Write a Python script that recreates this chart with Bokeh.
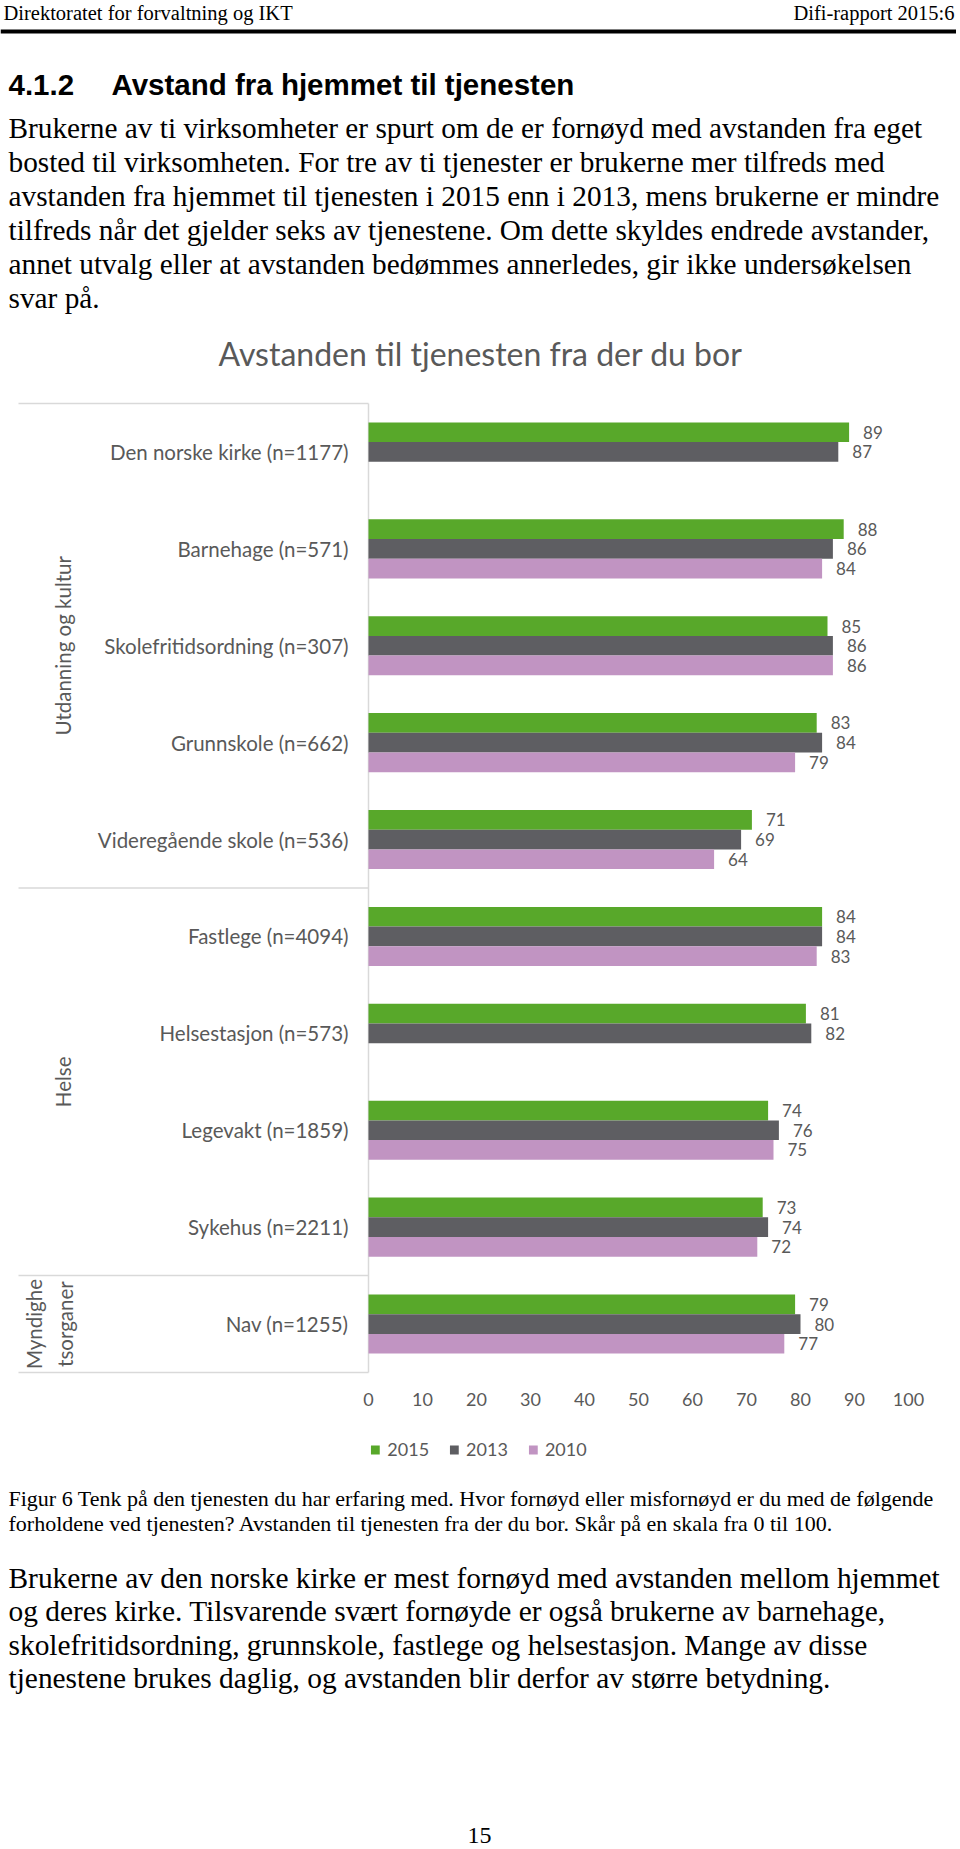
from bokeh.plotting import figure
from bokeh.models import ColumnDataSource, Range1d, FixedTicker, Legend, LegendItem
from bokeh.layouts import column
from bokeh.embed import file_html
from bokeh.resources import INLINE
from bokeh.core.properties import value
import math

# ---------------- data ----------------
categories = ["Den norske kirke (n=1177)", "Barnehage (n=571)", "Skolefritidsordning (n=307)",
              "Grunnskole (n=662)", "Videregående skole (n=536)", "Fastlege (n=4094)",
              "Helsestasjon (n=573)", "Legevakt (n=1859)", "Sykehus (n=2211)", "Nav (n=1255)"]
v2015 = [89, 88, 85, 83, 71, 84, 81, 74, 73, 79]
v2013 = [87, 86, 86, 84, 69, 84, 82, 76, 74, 80]
v2010 = [None, 84, 86, 79, 64, 83, None, 75, 72, 77]
series_names = ["2015", "2013", "2010"]
series_colors = ["#58A82A", "#5E5E62", "#C194C2"]
groups = ["Utdanning og kultur", "Helse", "Myndighe\ntsorganer"]
group_sizes = [5, 4, 1]
ticks = [0, 10, 20, 30, 40, 50, 60, 70, 80, 90, 100]
chart_title = "Avstanden til tjenesten fra der du bor"

header_left = "Direktoratet for forvaltning og IKT"
header_right = "Difi-rapport 2015:6"
section_no = "4.1.2"
section_title = "Avstand fra hjemmet til tjenesten"
intro_lines = [
    "Brukerne av ti virksomheter er spurt om de er fornøyd med avstanden fra eget",
    "bosted til virksomheten. For tre av ti tjenester er brukerne mer tilfreds med",
    "avstanden fra hjemmet til tjenesten i 2015 enn i 2013, mens brukerne er mindre",
    "tilfreds når det gjelder seks av tjenestene. Om dette skyldes endrede avstander,",
    "annet utvalg eller at avstanden bedømmes annerledes, gir ikke undersøkelsen",
    "svar på.",
]
caption_lines = [
    "Figur 6 Tenk på den tjenesten du har erfaring med. Hvor fornøyd eller misfornøyd er du med de følgende",
    "forholdene ved tjenesten? Avstanden til tjenesten fra der du bor. Skår på en skala fra 0 til 100.",
]
outro_lines = [
    "Brukerne av den norske kirke er mest fornøyd med avstanden mellom hjemmet",
    "og deres kirke. Tilsvarende svært fornøyde er også brukerne av barnehage,",
    "skolefritidsordning, grunnskole, fastlege og helsestasjon. Mange av disse",
    "tjenestene brukes daglig, og avstanden blir derfor av større betydning.",
]
page_number = "15"

W = 956
A_TOP, A_BOT = 0, 330
B_BOT = 1430
C_BOT = 1847
SERIF = value("Liberation Serif")
CHART_FONT = value("Lato")
GREY = "#595959"


def text_fig(top, bottom):
    f = figure(width=W, height=bottom - top, x_range=Range1d(0, W), y_range=Range1d(bottom, top),
               x_axis_location=None, y_axis_location=None, toolbar_location=None,
               output_backend="svg", min_border=0, outline_line_color=None)
    f.grid.visible = False
    return f


# ---------------- top text ----------------
A = text_fig(A_TOP, A_BOT)
A.text(x=[3], y=[12.5], text=[header_left], text_font=SERIF, text_font_size="20.5px",
       text_baseline="middle", text_align="left", text_color="black")
A.text(x=[954], y=[12.5], text=[header_right], text_font=SERIF, text_font_size="20.5px",
       text_baseline="middle", text_align="right", text_color="black")
A.segment(x0=[0], x1=[W], y0=[31], y1=[31], line_color="black", line_width=4)
A.text(x=[8, 111], y=[84, 84], text=[section_no, section_title], text_font=value("Liberation Sans"),
       text_font_style="bold", text_font_size="29.5px", text_baseline="middle", text_color="black")
A.text(x=[8] * len(intro_lines), y=[127 + 34 * k for k in range(len(intro_lines))], text=intro_lines,
       text_font=SERIF, text_font_size="29.3px", text_baseline="middle", text_color="black")

# ---------------- chart ----------------
PX_PER_UNIT = 5.4
ZERO_X = 368.0  # page x of value 0
SLOT = 96.9
FRAME_TOP = A_BOT
LINE_TOP = 403.0
n = len(categories)
x_start = (0 - ZERO_X) / PX_PER_UNIT
x_end = (W - ZERO_X) / PX_PER_UNIT
y_top = -0.5 - (LINE_TOP - FRAME_TOP) / SLOT
y_bottom = n - 0.5 + 2 / SLOT
frame_h = (y_bottom - y_top) * SLOT

B = figure(width=W, height=B_BOT - A_BOT, x_range=Range1d(x_start, x_end), y_range=Range1d(y_bottom, y_top),
           x_axis_location="below", y_axis_location=None, toolbar_location=None,
           output_backend="svg", min_border=0, min_border_bottom=int(round(B_BOT - A_BOT - frame_h)),
           outline_line_color=None)
B.grid.visible = False

# group separators & axis line
bounds = [-0.5]
for s in group_sizes:
    bounds.append(bounds[-1] + s)
sep_left = (18 - ZERO_X) / PX_PER_UNIT
B.segment(x0=[sep_left] * len(bounds), x1=[0] * len(bounds), y0=bounds, y1=bounds,
          line_color="#D9D9D9", line_width=1.5)
B.segment(x0=[0], x1=[0], y0=[bounds[0]], y1=[bounds[-1]], line_color="#D9D9D9", line_width=1.5)

BAR = 19.7 / SLOT
offsets = [-BAR, 0.0, BAR]
for vals, off, col in zip([v2015, v2013, v2010], offsets, series_colors):
    ys = [i + off for i, v in enumerate(vals) if v is not None]
    xs = [v for v in vals if v is not None]
    src = ColumnDataSource(dict(y=ys, right=xs, label=[str(v) for v in xs]))
    B.hbar(y="y", right="right", left=0, height=BAR, source=src, fill_color=col, line_color=None)
    B.text(x="right", y="y", text="label", source=src, x_offset=14, text_align="left",
           text_baseline="middle", text_font=CHART_FONT, text_font_size="17px", text_color=GREY)

# category labels
csrc = ColumnDataSource(dict(x=[0] * n, y=list(range(n)), t=categories))
B.text(x="x", y="y", text="t", source=csrc, x_offset=-20, text_align="right", text_baseline="middle",
       text_font=CHART_FONT, text_font_size="20.5px", text_color=GREY)

# group labels (rotated)
gcent = [(bounds[k] + bounds[k + 1]) / 2 for k in range(len(groups))]
goff = [-319 if "\n" in g else -306 for g in groups]
gsrc = ColumnDataSource(dict(x=[0] * len(groups), y=gcent, t=groups, xo=goff))
B.text(x="x", y="y", text="t", source=gsrc, x_offset="xo", angle=math.pi / 2, text_align="center",
       text_baseline="middle", text_font=CHART_FONT, text_font_size="20.5px", text_color=GREY,
       text_line_height=1.3)

# chart title
B.text(x=[(480 - ZERO_X) / PX_PER_UNIT], y=[-0.5 - (LINE_TOP - 353) / SLOT], text=[chart_title],
       text_align="center", text_baseline="middle", text_font=CHART_FONT, text_font_size="32px",
       text_color=GREY)

ax = B.xaxis[0]
ax.ticker = FixedTicker(ticks=ticks)
ax.axis_line_color = None
ax.major_tick_line_color = None
ax.minor_tick_line_color = None
ax.major_tick_out = 0
ax.major_tick_in = 0
ax.minor_tick_out = 0
ax.major_label_standoff = 18
ax.major_label_text_font = "Lato"
ax.major_label_text_font_size = "18px"
ax.major_label_text_color = GREY

# ---------------- bottom: legend + text ----------------
C = text_fig(B_BOT, C_BOT)
key_rends = []
for col in series_colors:
    # legend key renderers: zero-length bars placed outside the visible area
    ksrc = ColumnDataSource(dict(y=[C_BOT + 500], right=[0]))
    key_rends.append(C.hbar(y="y", right="right", left=0, height=1, source=ksrc,
                            fill_color=col, line_color=None))
legend = Legend(items=[LegendItem(label=nm, renderers=[r]) for nm, r in zip(series_names, key_rends)],
                orientation="horizontal", location="top_center", glyph_width=11, glyph_height=11,
                label_standoff=7, spacing=19, padding=0, margin=8, border_line_color=None,
                background_fill_alpha=0, label_text_font="Lato", label_text_font_size="18px",
                label_text_color=GREY)
C.add_layout(legend)

C.text(x=[8, 8], y=[1498, 1523], text=caption_lines, text_font=SERIF, text_font_size="22px",
       text_baseline="middle", text_color="black")
C.text(x=[8] * len(outro_lines), y=[1577 + 33.5 * k for k in range(len(outro_lines))], text=outro_lines,
       text_font=SERIF, text_font_size="29.4px", text_baseline="middle", text_color="black")
C.text(x=[479], y=[1835], text=[page_number], text_font=SERIF, text_font_size="24px",
       text_baseline="middle", text_align="center", text_color="black")

page = column(A, B, C, spacing=0)
open("out.html", "w").write(file_html(page, INLINE))
